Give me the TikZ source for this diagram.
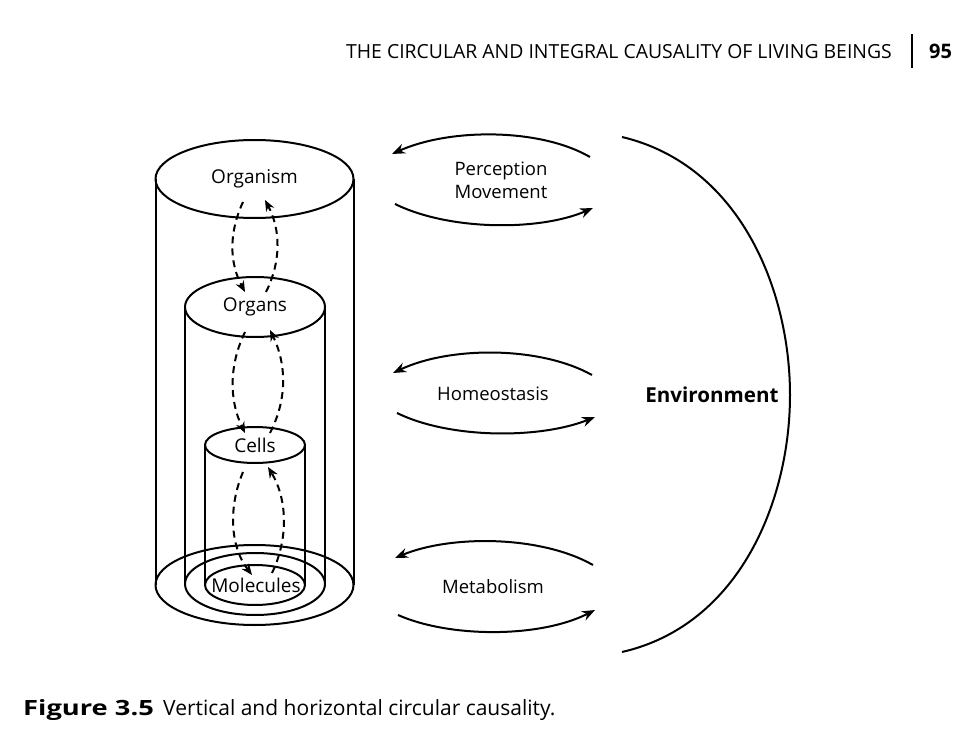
\documentclass[tikz,border=0pt]{standalone}
\usepackage{fontspec}
\setmainfont{Open Sans}
\usetikzlibrary{arrows.meta,shapes.geometric}
\begin{document}
\begin{tikzpicture}[x=1pt,y=-1pt,
  outline/.style={line width=2pt, line join=round},
  topell/.style={ellipse, draw, outline, inner sep=0pt, font=\fontsize{19pt}{22pt}\selectfont},
  dasharrow/.style={line width=2pt, dash pattern=on 7pt off 5pt, -{Stealth[length=11pt,width=9pt]}},
  solidarrow/.style={line width=2pt, -{Stealth[length=13pt,width=10pt]}},
  lbl/.style={font=\fontsize{18.5pt}{23pt}\selectfont, align=center, inner sep=0pt},
  hdr/.style={font=\fontsize{19.4pt}{20pt}\selectfont, inner sep=0pt, anchor=base west}]
\useasboundingbox (0,0) rectangle (978,746);

% header
\node[hdr] (head) at (346,59) {THE CIRCULAR AND INTEGRAL CAUSALITY OF LIVING BEINGS};
\coordinate (sepTop) at (912,34);
\coordinate (sepBot) at (912,68);
\draw[line width=1.2pt] (sepTop) -- (sepBot);
\node[hdr, font=\fontsize{20pt}{20pt}\selectfont\bfseries] (page) at (929,59) {95};

% cylinder sides
\draw[outline] (155.5,179) -- (155.5,585) (353.5,179) -- (353.5,585);
\draw[outline] (185,307) -- (185,584) (325,307) -- (325,584);
\draw[outline] (205,445) -- (205,585) (305,445) -- (305,585);

% bottom ellipses
\draw[outline] (254.5,585) ellipse [x radius=99pt, y radius=40pt];
\draw[outline] (255,584) ellipse [x radius=70pt, y radius=31pt];
\draw[outline] (255,585) ellipse [x radius=50pt, y radius=20pt];
\node[inner sep=0pt, font=\fontsize{19pt}{22pt}\selectfont] (molecules) at (256,585) {Molecules};

% top ellipses
\node[topell, minimum width=198pt, minimum height=78pt] (organism) at (254.5,179) {Organism};
\node[topell, minimum width=140pt, minimum height=60pt] (organs) at (255,307) {Organs};
\node[topell, minimum width=100pt, minimum height=36pt] (cells) at (255,445) {Cells};

% vertical dashed arrows
\coordinate (a1s) at (243,202); \coordinate (a1e) at (245,292);
\coordinate (b1s) at (266,292); \coordinate (b1e) at (265,200);
\draw[dasharrow] (a1s) .. controls (229,232) and (229,262) .. (a1e);
\draw[dasharrow] (b1s) .. controls (281,262) and (281,230) .. (b1e);

\coordinate (a2s) at (245,332); \coordinate (a2e) at (245,433);
\coordinate (b2s) at (270,433); \coordinate (b2e) at (270,330);
\draw[dasharrow] (a2s) .. controls (229,365) and (229,400) .. (a2e);
\draw[dasharrow] (b2s) .. controls (287,400) and (287,365) .. (b2e);

\coordinate (a3s) at (243,472); \coordinate (a3e) at (252,575);
\coordinate (b3s) at (272,573); \coordinate (b3e) at (268,467);
\draw[dasharrow] (a3s) .. controls (229,505) and (229,545) .. (a3e);
\draw[dasharrow] (b3s) .. controls (288,540) and (288,500) .. (b3e);

% horizontal arrows and labels
\node[lbl] (perc) at (501,180) {Perception\\Movement};
\coordinate (p1s) at (590,157); \coordinate (p1e) at (392,154);
\coordinate (p2s) at (395,204); \coordinate (p2e) at (593,208);
\draw[solidarrow] (p1s) .. controls (540,128) and (450,128) .. (p1e);
\draw[solidarrow] (p2s) .. controls (450,231) and (540,231) .. (p2e);

\node[lbl] (homeo) at (493,394) {Homeostasis};
\coordinate (h1s) at (592,375); \coordinate (h1e) at (393,373);
\coordinate (h2s) at (397,413); \coordinate (h2e) at (595,417);
\draw[solidarrow] (h1s) .. controls (540,346) and (450,346) .. (h1e);
\draw[solidarrow] (h2s) .. controls (450,439) and (540,439) .. (h2e);

\node[lbl] (metab) at (493,587) {Metabolism};
\coordinate (m1s) at (593,565); \coordinate (m1e) at (395,558);
\coordinate (m2s) at (398,615); \coordinate (m2e) at (595,610);
\draw[solidarrow] (m1s) .. controls (540,535) and (450,535) .. (m1e);
\draw[solidarrow] (m2s) .. controls (450,638) and (540,638) .. (m2e);

% environment
\node[lbl, font=\fontsize{20.6pt}{22pt}\selectfont\bfseries] (env) at (712,395) {Environment};
\coordinate (envTop) at (622,137);
\coordinate (envBot) at (622,652);
\draw[outline] (envTop) .. controls (740,165) and (790,290) .. (790,395) .. controls (790,500) and (740,625) .. (envBot);

% caption
\node[hdr, font=\fontsize{21pt}{22pt}\selectfont\bfseries] (figno) at (23,715) {\scalebox{1.3}[1]{Figure 3.5}};
\node[hdr, font=\fontsize{21pt}{22pt}\selectfont] (cap) at (163,715) {Vertical and horizontal circular causality.};
\end{tikzpicture}
\end{document}
